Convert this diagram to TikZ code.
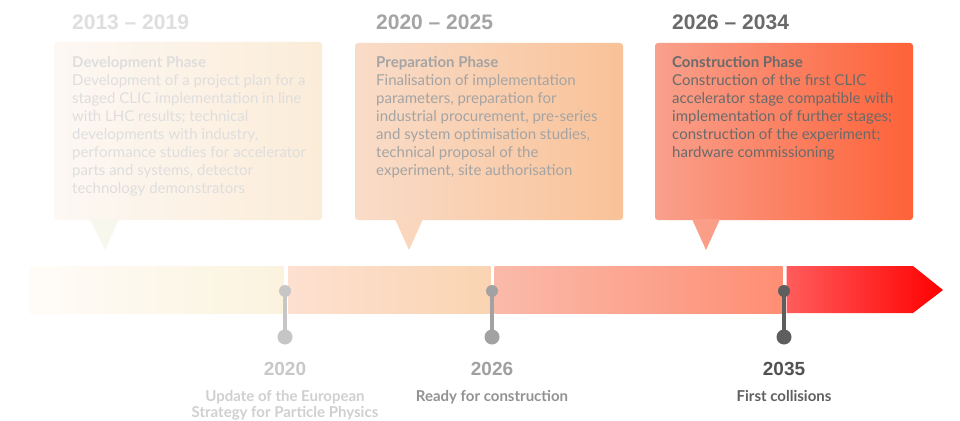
\documentclass[tikz,border=0pt]{standalone}
\usepackage{fontspec}
\setmainfont{Lato}
\newfontfamily\yearfont{Liberation Sans}
\usepackage{array}
\begin{document}
\begin{tikzpicture}[x=1pt,y=-1pt,
  yearhead/.style={anchor=base west,inner sep=0pt,font=\yearfont\bfseries\fontsize{21}{24}\selectfont},
  boxtext/.style={anchor=base west,inner sep=0pt,font=\fontsize{15}{18}\selectfont},
  milestone/.style={anchor=base,inner sep=0pt,font=\yearfont\bfseries\fontsize{19}{22}\selectfont},
  mscaption/.style={anchor=base,inner sep=0pt,font=\bfseries\fontsize{15}{16.5}\selectfont},
  pinhead/.style={circle,inner sep=0pt,minimum size=#1},
  pinline/.style={line width=4.6pt}
]
\definecolor{txtA}{HTML}{DEDEDE}
\definecolor{txtB}{HTML}{A4A4A4}
\definecolor{txtC}{HTML}{6A6A6A}
\definecolor{pinA}{HTML}{C6C6C6}
\definecolor{pinB}{HTML}{A2A2A2}
\definecolor{pinC}{HTML}{5E5E5E}

\useasboundingbox (0,0) rectangle (960,420);
\fill[white] (0,0) rectangle (960,420);

% ---- phase boxes with pointers ----
\shade[left color={rgb,255:red,253;green,248;blue,244},
       middle color={rgb,255:red,248;green,247;blue,236},
       right color={rgb,255:red,251;green,236;blue,216},
       rounded corners=3pt] (54,42) rectangle (322,220);
\fill[color={rgb,255:red,248;green,247;blue,238}] (90,219) -- (105,250) -- (119,219) -- cycle;

\shade[left color={rgb,255:red,249;green,220;blue,200},
       right color={rgb,255:red,249;green,194;blue,152},
       rounded corners=3pt] (355,43) rectangle (623,220);
\fill[color={rgb,255:red,249;green,214;blue,188}] (395,219) -- (409,250) -- (423,219) -- cycle;

\shade[left color={rgb,255:red,249;green,160;blue,140},
       right color={rgb,255:red,254;green,98;blue,56},
       rounded corners=3pt] (655,43) rectangle (913,220);
\fill[color={rgb,255:red,250;green,158;blue,136}] (692,219) -- (706,250) -- (720,219) -- cycle;

% ---- period headings ----
\node[yearhead,text=txtA] (yA) at (72,30) {2013 – 2019};
\node[yearhead,text=txtB] (yB) at (376,30) {2020 – 2025};
\node[yearhead,text=txtC] (yC) at (672,30) {2026 – 2034};

% ---- box texts ----
\node[boxtext,text=txtA] (tA) at (72,67) {\begin{tabular}[t]{@{}l@{}}
\textbf{Development Phase}\\
Development of a project plan for a\\
staged CLIC implementation in line\\
with LHC results; technical\\
developments with industry,\\
performance studies for accelerator\\
parts and systems, detector\\
technology demonstrators\end{tabular}};
\node[boxtext,text=txtB] (tB) at (376,67) {\begin{tabular}[t]{@{}l@{}}
\textbf{Preparation Phase}\\
Finalisation of implementation\\
parameters, preparation for\\
industrial procurement, pre-series\\
and system optimisation studies,\\
technical proposal of the\\
experiment, site authorisation\end{tabular}};
\node[boxtext,text=txtC] (tC) at (672,67) {\begin{tabular}[t]{@{}l@{}}
\textbf{Construction Phase}\\
Construction of the first CLIC\\
accelerator stage compatible with\\
implementation of further stages;\\
construction of the experiment;\\
hardware commissioning\end{tabular}};

% ---- timeline bar ----
\shade[left color={rgb,255:red,255;green,252;blue,248},
       middle color={rgb,255:red,249;green,249;blue,238},
       right color={rgb,255:red,251;green,243;blue,222}] (30,266) rectangle (283.5,313);
\shade[left color={rgb,255:red,253;green,224;blue,208},
       right color={rgb,255:red,250;green,212;blue,178}] (288,266) rectangle (490.5,313);
\shade[left color={rgb,255:red,250;green,186;blue,170},
       right color={rgb,255:red,254;green,142;blue,116}] (494.5,266) rectangle (782.5,313);
\shade[left color={rgb,255:red,255;green,92;blue,92},
       right color={rgb,255:red,255;green,0;blue,0}]
  (786.5,266) -- (913,266) -- (943,290) -- (913,313) -- (786.5,313) -- cycle;

% ---- milestone pins ----
\node[pinhead=12pt,fill=pinA] (pA1) at (285,291) {};
\node[pinhead=15pt,fill=pinA] (pA2) at (285,337) {};
\draw[pinline,pinA] (pA1.center) -- (pA2.center);
\node[pinhead=12pt,fill=pinB] (pB1) at (492,291) {};
\node[pinhead=15pt,fill=pinB] (pB2) at (492,337) {};
\draw[pinline,pinB] (pB1.center) -- (pB2.center);
\node[pinhead=12pt,fill=pinC] (pC1) at (784,291) {};
\node[pinhead=15pt,fill=pinC] (pC2) at (784,337) {};
\draw[pinline,pinC] (pC1.center) -- (pC2.center);

% ---- milestone labels ----
\node[milestone,text={rgb,255:red,200;green,200;blue,200}] (mA) at (285,375) {2020};
\node[mscaption,text={rgb,255:red,208;green,208;blue,208}] (cA) at (285,401)
  {\begin{tabular}[t]{@{}c@{}}Update of the European\\Strategy for Particle Physics\end{tabular}};
\node[milestone,text={rgb,255:red,160;green,160;blue,160}] (mB) at (492,375) {2026};
\node[mscaption,text={rgb,255:red,146;green,146;blue,146}] (cB) at (492,401) {Ready for construction};
\node[milestone,text={rgb,255:red,82;green,82;blue,82}] (mC) at (784,375) {2035};
\node[mscaption,text={rgb,255:red,96;green,96;blue,96}] (cC) at (784,401) {First collisions};
\end{tikzpicture}
\end{document}
